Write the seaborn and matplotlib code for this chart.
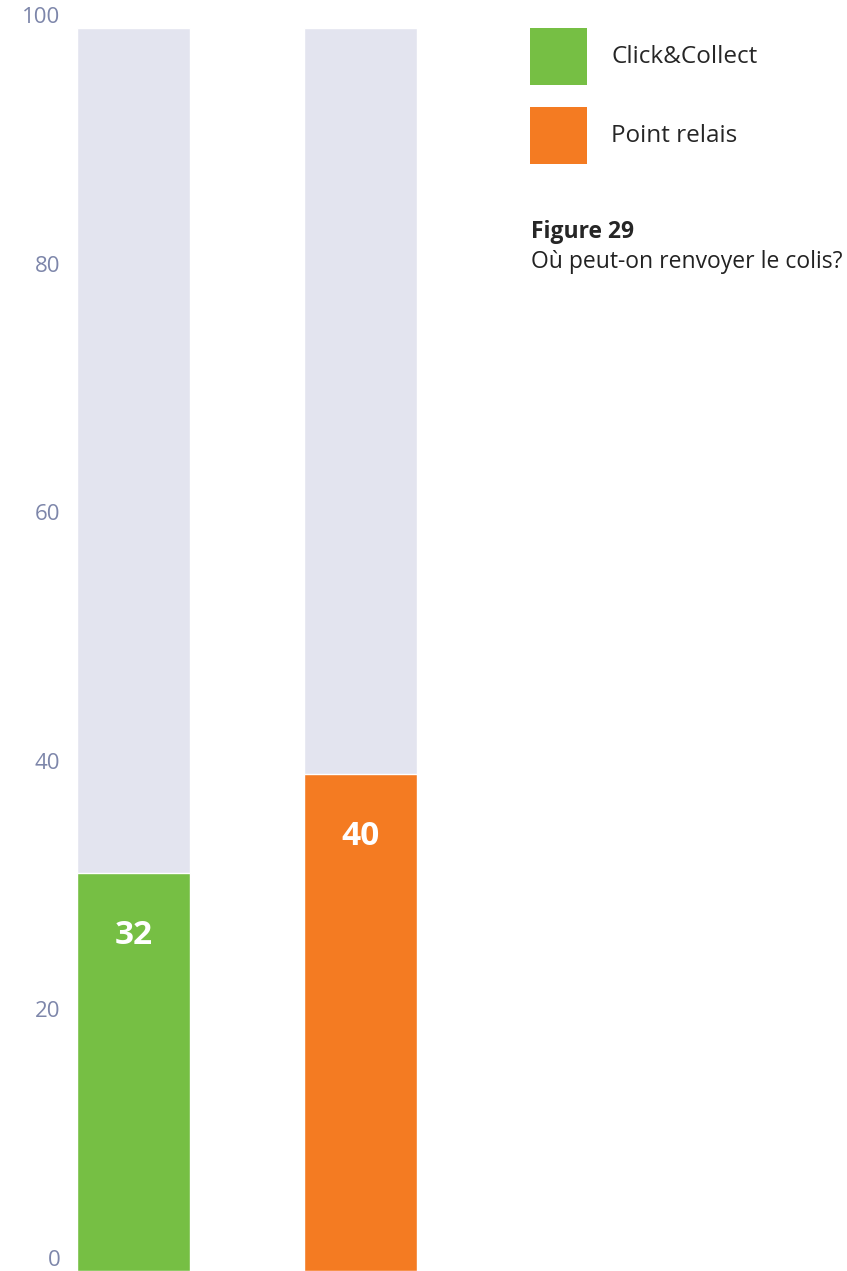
import matplotlib
matplotlib.use('Agg')
import matplotlib.pyplot as plt
from matplotlib.patches import Patch
import seaborn as sns

categories = ["Click&Collect", "Point relais"]
values = [32, 40]
totals = [100, 100]
colors = ["#76bf44", "#f47b22"]
yticks = [0, 20, 40, 60, 80, 100]
title = "Figure 29"
subtitle = "Où peut-on renvoyer le colis?"

sns.set_style("white")
plt.rcParams['font.family'] = ['Open Sans', 'DejaVu Sans']

fig = plt.figure(figsize=(8.47, 12.71), dpi=100)
ax = fig.add_axes([77 / 847, 0, 340 / 847, 1243 / 1271])

# background bars (full 100)
sns.barplot(x=categories, y=totals, color="#e3e4ef", width=0.5, ax=ax, saturation=1)
sns.barplot(x=categories, y=values, hue=categories, palette=colors, width=0.5,
            ax=ax, saturation=1, legend=False)

for cont in ax.containers[1:]:
    ax.bar_label(cont, labels=[f"{v:.0f}" for v in cont.datavalues], padding=-57,
                 color="white", fontsize=24, fontweight="bold")

ax.set_xlim(-0.25, 1.25)
ax.set_ylim(0, 100)
ax.set_yticks(yticks)
ax.set_xticks([])
ax.set_xlabel("")
ax.set_ylabel("")
ax.tick_params(axis='y', length=0, pad=12, labelsize=16, labelcolor="#7d86aa")
for lab in ax.get_yticklabels():
    lab.set_va('bottom')
sns.despine(ax=ax, left=True, bottom=True)

handles = [Patch(facecolor=c, edgecolor='none') for c in colors]
fig.legend(handles, categories, loc='upper left', bbox_to_anchor=(530 / 847, 1 - 28 / 1271),
           frameon=False, fontsize=17.5, handlelength=2.35, handleheight=3.22,
           handletextpad=1.0, labelspacing=0.9, borderpad=0, borderaxespad=0)

fig.text(531 / 847, 1 - 232 / 1271, title, fontsize=16.5, fontweight='bold', va='center', ha='left')
fig.text(531 / 847, 1 - 262 / 1271, subtitle, fontsize=16.5, va='center', ha='left', color="#222222")

fig.savefig("out.png", dpi=100)
